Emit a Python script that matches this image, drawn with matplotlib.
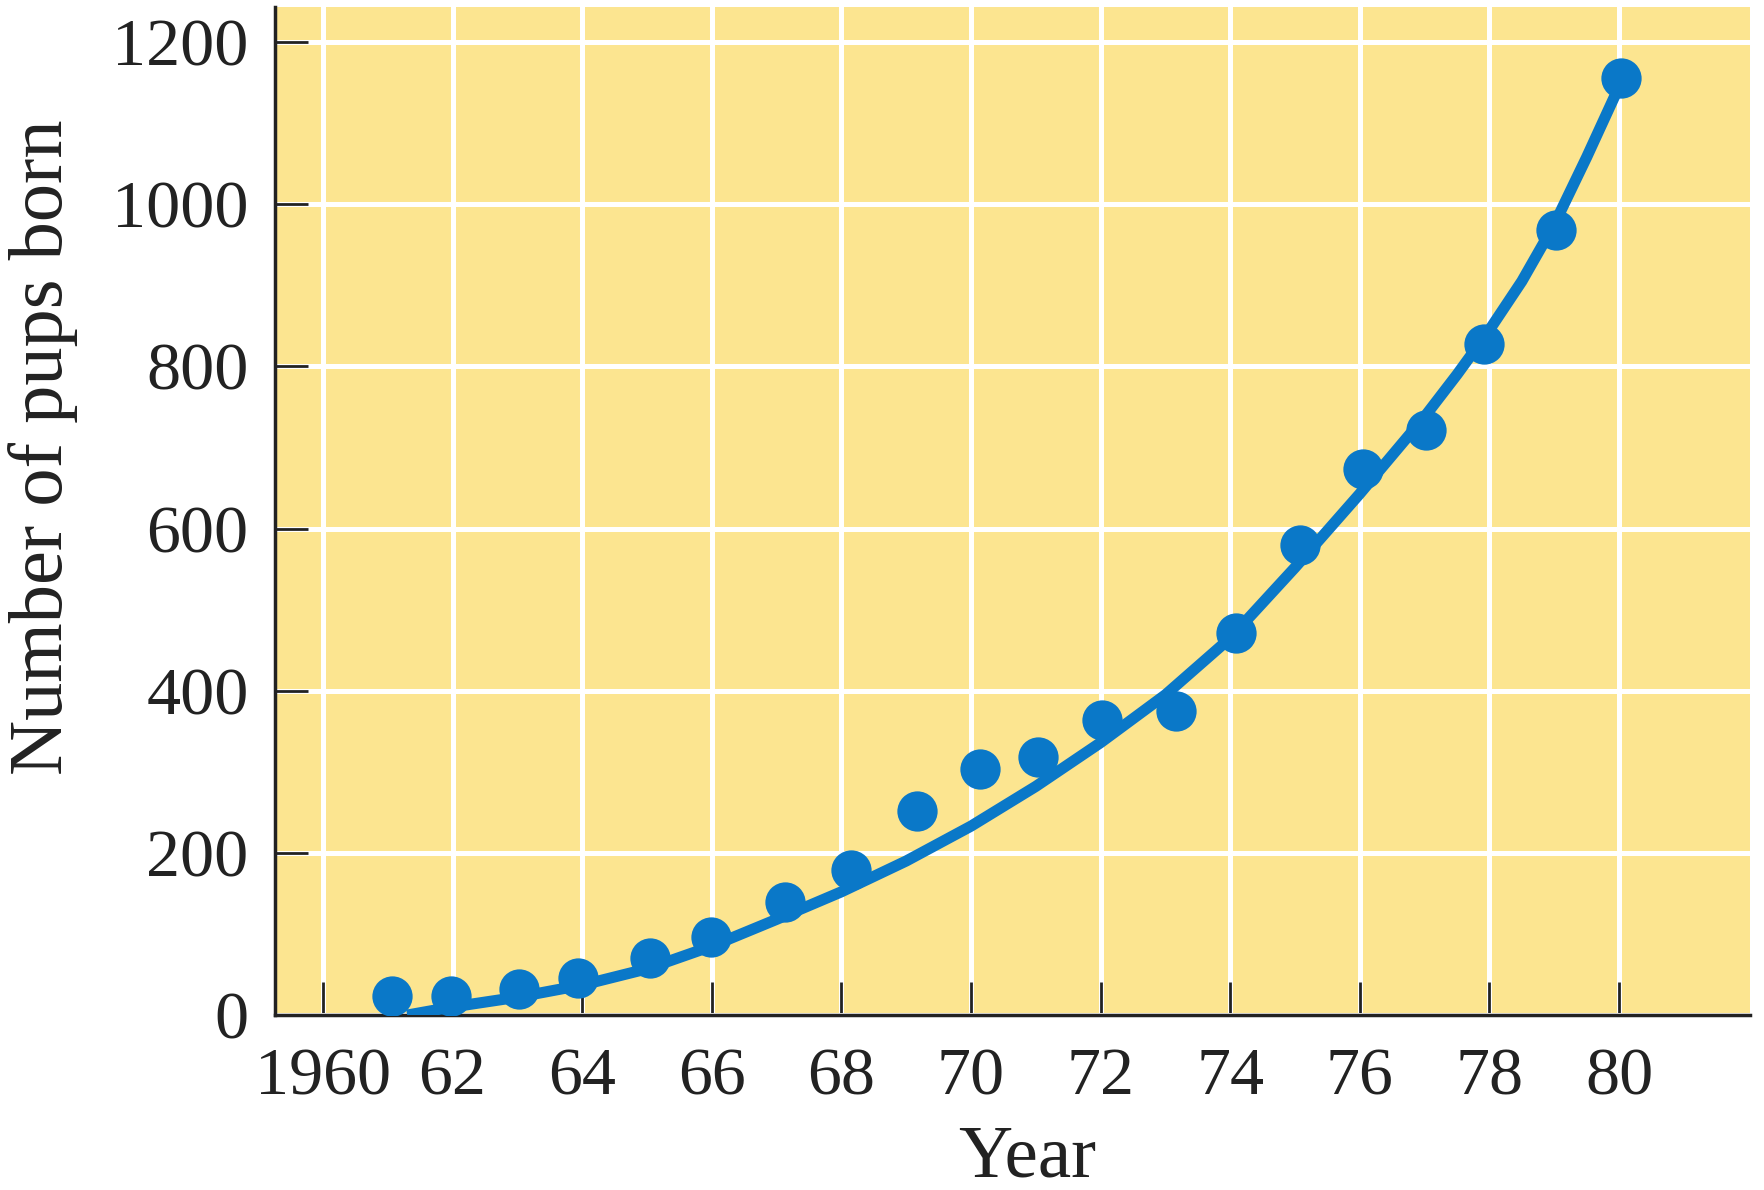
import matplotlib.pyplot as plt

years = [1961.06, 1961.98, 1963.03, 1963.93, 1965.05, 1965.99, 1967.13, 1968.15,
         1969.17, 1970.14, 1971.04, 1972.02, 1973.17, 1974.09, 1975.08, 1976.05,
         1977.02, 1977.92, 1979.03, 1980.03]
pups = [24, 24, 32, 46, 70, 96, 139, 179, 252, 303, 318, 364, 375, 471, 580, 673,
        722, 827, 968, 1156]

# fitted curve
fit_years = [1961.3, 1962, 1963, 1964, 1965, 1966, 1967, 1968, 1969, 1970, 1971,
             1972, 1973, 1974, 1975, 1976, 1977, 1977.5, 1978, 1978.5, 1979,
             1979.5, 1980]
fit_pups = [0, 10, 22, 37, 57, 85, 118, 152, 190, 233, 282, 336, 395, 465, 552,
            643, 738, 790, 845, 905, 975, 1058, 1145]

xticks = list(range(1960, 1981, 2))
xticklabels = ["1960", "62", "64", "66", "68", "70", "72", "74", "76", "78", "80"]
yticks = list(range(0, 1201, 200))

blue = "#0a78c8"
plt.rcParams['font.family'] = ['Liberation Serif', 'DejaVu Serif']

fig = plt.figure(figsize=(17.65, 11.9), dpi=100)
ax = fig.add_axes([0.1558, 0.147, 0.8357, 0.847])
ax.set_facecolor("#fce590")

ax.plot(fit_years, fit_pups, color=blue, lw=8, solid_capstyle="butt",
        solid_joinstyle="round", zorder=3)
ax.plot(years, pups, "o", color=blue, ms=29, mec="none", zorder=4)

ax.set_xlim(1959.26, 1982.02)
ax.set_ylim(0, 1243)
ax.set_xticks(xticks)
ax.set_xticklabels(xticklabels)
ax.set_yticks(yticks)

ax.grid(True, color="white", lw=3.6)
ax.set_axisbelow(True)

for s in ["top", "right"]:
    ax.spines[s].set_visible(False)
for s in ["left", "bottom"]:
    ax.spines[s].set_linewidth(2.5)
    ax.spines[s].set_color("#222222")

ax.tick_params(axis="both", direction="in", length=24, width=2, color="#222222",
               labelsize=49, labelcolor="#222222")
ax.tick_params(axis="x", pad=23)
ax.tick_params(axis="y", pad=19)

ax.set_xlabel("Year", fontsize=54, color="#222222")
ax.xaxis.set_label_coords(0.51, -0.143)
ax.xaxis.label.set_verticalalignment("center")
ax.set_ylabel("Number of pups born", fontsize=55, color="#222222")
ax.yaxis.set_label_coords(-0.157, 0.563)
ax.yaxis.label.set_verticalalignment("center")

plt.savefig("out.png", dpi=100)
